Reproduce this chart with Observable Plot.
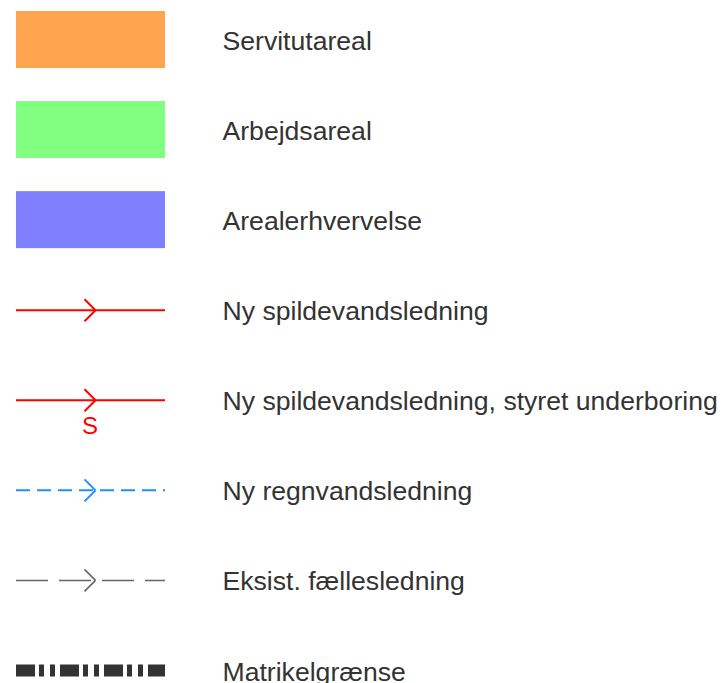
<!DOCTYPE html>
<html>
<head>
<meta charset="utf-8">
<script src="https://cdn.jsdelivr.net/npm/d3@7"></script>
<script src="https://cdn.jsdelivr.net/npm/@observablehq/plot@0.6"></script>
<style>
  html, body { margin: 0; padding: 0; background: #fff; }
  #chart svg { display: block; font-family: "Liberation Sans", Arial, sans-serif; }
</style>
</head>
<body>
<div id="chart"></div>
<script>
// Legend entries
const labels = [
  "Servitutareal",
  "Arbejdsareal",
  "Arealerhvervelse",
  "Ny spildevandsledning",
  "Ny spildevandsledning, styret underboring",
  "Ny regnvandsledning",
  "Eksist. fællesledning",
  "Matrikelgrænse"
];
const kinds = ["area", "area", "area", "line", "line", "line", "line", "line"];
const symbolColors = ["#FFA54F", "#80FF80", "#8080FF", "#FF0000", "#FF0000", "#1E8FFF", "#666666", "#333333"];
const dashes = [null, null, null, null, null, "14,7", "32,11", "19,4,5,6,5,5"];
const lineWidths = [0, 0, 0, 2, 2, 2, 1.6, 12];
const arrows = [false, false, false, true, true, true, true, false];
const subLabels = ["", "", "", "", "S", "", "", ""];

const rows = labels.map((label, i) => ({
  i, label, kind: kinds[i], color: symbolColors[i], dash: dashes[i],
  width: lineWidths[i], arrow: arrows[i], sub: subLabels[i]
}));

// layout constants (pixels in x, row units in y)
const SX0 = 16, SX1 = 165, TX = 222;
const ARROW_TIP = 95, ARROW_LEN = 11, ARROW_HALF = 0.122;
const RECT_HALF = 0.3165;

const marks = [];

// filled areas
marks.push(Plot.rect(rows.filter(d => d.kind === "area"), {
  x1: () => SX0, x2: () => SX1,
  y1: d => d.i - RECT_HALF, y2: d => d.i + RECT_HALF,
  fill: d => d.color
}));

// line symbols
for (const r of rows.filter(d => d.kind === "line")) {
  marks.push(Plot.ruleY([r], {
    y: "i", x1: () => SX0, x2: () => SX1,
    stroke: r.color, strokeWidth: r.width,
    strokeDasharray: r.dash || undefined,
    strokeLinecap: "butt"
  }));
  if (r.arrow) {
    const segs = [
      {x1: ARROW_TIP - ARROW_LEN, y1: r.i - ARROW_HALF, x2: ARROW_TIP, y2: r.i},
      {x1: ARROW_TIP - ARROW_LEN, y1: r.i + ARROW_HALF, x2: ARROW_TIP, y2: r.i}
    ];
    marks.push(Plot.link(segs, {
      x1: "x1", y1: "y1", x2: "x2", y2: "y2",
      stroke: r.color, strokeWidth: r.width, strokeLinecap: "butt"
    }));
  }
  if (r.sub) {
    marks.push(Plot.text([r], {
      x: () => 89.5, y: "i", text: "sub",
      fill: r.color, fontSize: 24, dy: 26, textAnchor: "middle"
    }));
  }
}

// labels
marks.push(Plot.text(rows, {
  x: () => TX, y: "i", text: "label",
  textAnchor: "start", fontSize: 26.6, fill: "#333333", dy: 1.5
}));

const chart = Plot.plot({
  width: 722,
  height: 683,
  margin: 0,
  x: {domain: [0, 722], range: [0, 722], axis: null},
  y: {domain: [0, 7], range: [39.5, 670], axis: null},
  style: {fontFamily: "'Liberation Sans', Arial, sans-serif", background: "#fff"},
  marks
});
document.getElementById("chart").appendChild(chart);
</script>
</body>
</html>
